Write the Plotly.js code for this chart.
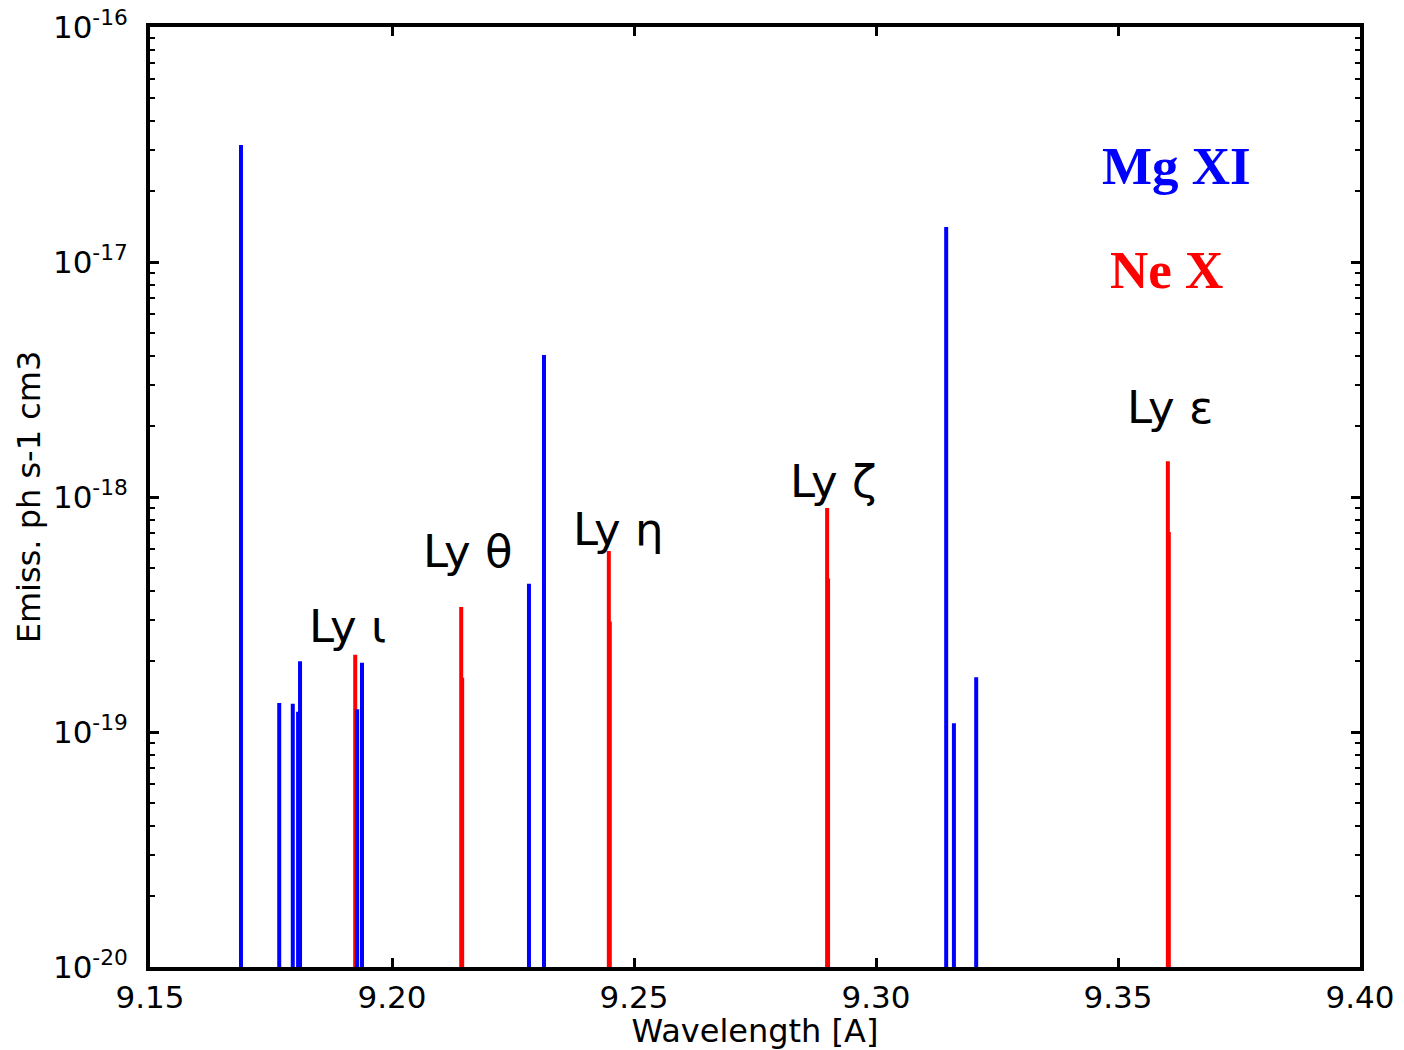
<!DOCTYPE html>
<html>
<head>
<meta charset="utf-8">
<script src="https://cdn.plot.ly/plotly-3.0.1.min.js"></script>
<style>html,body{margin:0;padding:0;background:#fff;}#chart{width:1404px;height:1050px;}</style>
</head>
<body>
<div id="chart"></div>
<script>
// Mg XI lines: wavelength [A] and emissivity
const mgWavelength = [9.1688, 9.1767, 9.1795, 9.1806, 9.1810, 9.1928, 9.1938, 9.2283, 9.2314, 9.3145, 9.3161, 9.3207];
const mgEmissivity = [3.15e-17, 1.33e-19, 1.32e-19, 1.22e-19, 2.0e-19, 1.25e-19, 1.97e-19, 4.27e-19, 4.02e-18, 1.41e-17, 1.09e-19, 1.71e-19];
// Ne X Lyman lines (doublet components)
const neWavelength = [9.1924, 9.1926, 9.2143, 9.2145, 9.2448, 9.2450, 9.2899, 9.2901, 9.3603, 9.3605];
const neEmissivity = [2.13e-19, 1.07e-19, 3.4e-19, 1.7e-19, 5.89e-19, 2.95e-19, 8.97e-19, 4.5e-19, 1.42e-18, 7.1e-19];
// Line labels
const lyLabels = ["Ly \u03b9", "Ly \u03b8", "Ly \u03b7", "Ly \u03b6", "Ly \u03b5"];
const yTickVals = [1e-20, 1e-19, 1e-18, 1e-17, 1e-16];
const yTickText = ["10<sup>-20</sup>", "10<sup>-19</sup>", "10<sup>-18</sup>", "10<sup>-17</sup>", "10<sup>-16</sup>"];
const xTickVals = [9.15, 9.20, 9.25, 9.30, 9.35, 9.40];
const xTickText = ["9.15", "9.20", "9.25", "9.30", "9.35", "9.40"];
const baseLevel = 1e-20;

function sticks(wl, em) {
  const x = [], y = [];
  wl.forEach((w, i) => { x.push(w, w, null); y.push(baseLevel, em[i], null); });
  return {x, y};
}
const ne = sticks(neWavelength, neEmissivity);
const mg = sticks(mgWavelength, mgEmissivity);

const traces = [
  {x: ne.x, y: ne.y, type: 'scatter', mode: 'lines', line: {color: '#ff0000', width: 4}, hoverinfo: 'skip', name: 'Ne X'},
  {x: mg.x, y: mg.y, type: 'scatter', mode: 'lines', line: {color: '#0000ff', width: 4}, hoverinfo: 'skip', name: 'Mg XI'}
];

const labelPos = [
  {x: 9.1909, y: -18.549},
  {x: 9.2157, y: -18.234},
  {x: 9.2467, y: -18.140},
  {x: 9.2911, y: -17.932},
  {x: 9.3607, y: -17.621}
];
const annotations = lyLabels.map((t, i) => ({
  x: labelPos[i].x, y: labelPos[i].y, xref: 'x', yref: 'y', text: t, showarrow: false,
  xanchor: 'center', yanchor: 'middle', font: {family: 'DejaVu Sans', size: 45, color: '#000'}
}));
// legend texts placed by pixel position, converted to axis-domain fractions
const L = 150, R = 1360, T = 27, B = 967;
annotations.push({x: (1176 - L) / (R - L), y: (B - 166) / (B - T), text: '<b>Mg XI</b>', showarrow: false,
  xanchor: 'center', yanchor: 'middle', xref: 'x domain', yref: 'y domain',
  font: {family: 'Liberation Serif', size: 53, color: '#0000ff'}});
annotations.push({x: (1166 - L) / (R - L), y: (B - 270) / (B - T), text: '<b>Ne X</b>', showarrow: false,
  xanchor: 'center', yanchor: 'middle', xref: 'x domain', yref: 'y domain',
  font: {family: 'Liberation Serif', size: 53, color: '#ff0000'}});

const layout = {
  width: 1404, height: 1050,
  margin: {l: 150, r: 44, t: 27, b: 83, pad: 0},
  paper_bgcolor: '#fff', plot_bgcolor: '#fff',
  showlegend: false,
  font: {family: 'DejaVu Sans', size: 31, color: '#000'},
  xaxis: {
    range: [9.15, 9.40], tickvals: xTickVals, ticktext: xTickText,
    ticks: 'inside', ticklen: 9, tickwidth: 3, tickcolor: '#000',
    showline: true, linewidth: 4, linecolor: '#000', mirror: 'ticks',
    showgrid: false, zeroline: false,
    tickfont: {family: 'DejaVu Sans', size: 31}, automargin: false,
    title: {text: 'Wavelength [A]', font: {family: 'DejaVu Sans', size: 32}, standoff: 0}
  },
  yaxis: {
    type: 'log', range: [-20, -16], tickvals: yTickVals, ticktext: yTickText,
    ticks: 'inside', ticklen: 9, tickwidth: 3, tickcolor: '#000',
    minor: {ticks: 'inside', ticklen: 5, tickwidth: 2, tickcolor: '#000', dtick: 'D1', showgrid: false},
    showline: true, linewidth: 4, linecolor: '#000', mirror: 'ticks',
    showgrid: false, zeroline: false, ticklabelstandoff: 12,
    tickfont: {family: 'DejaVu Sans', size: 31}, automargin: false,
    title: {text: 'Emiss. ph s-1 cm3', font: {family: 'DejaVu Sans', size: 32}, standoff: 4}
  },
  annotations: annotations
};

Plotly.newPlot('chart', traces, layout, {staticPlot: true, displayModeBar: false});
</script>
</body>
</html>
